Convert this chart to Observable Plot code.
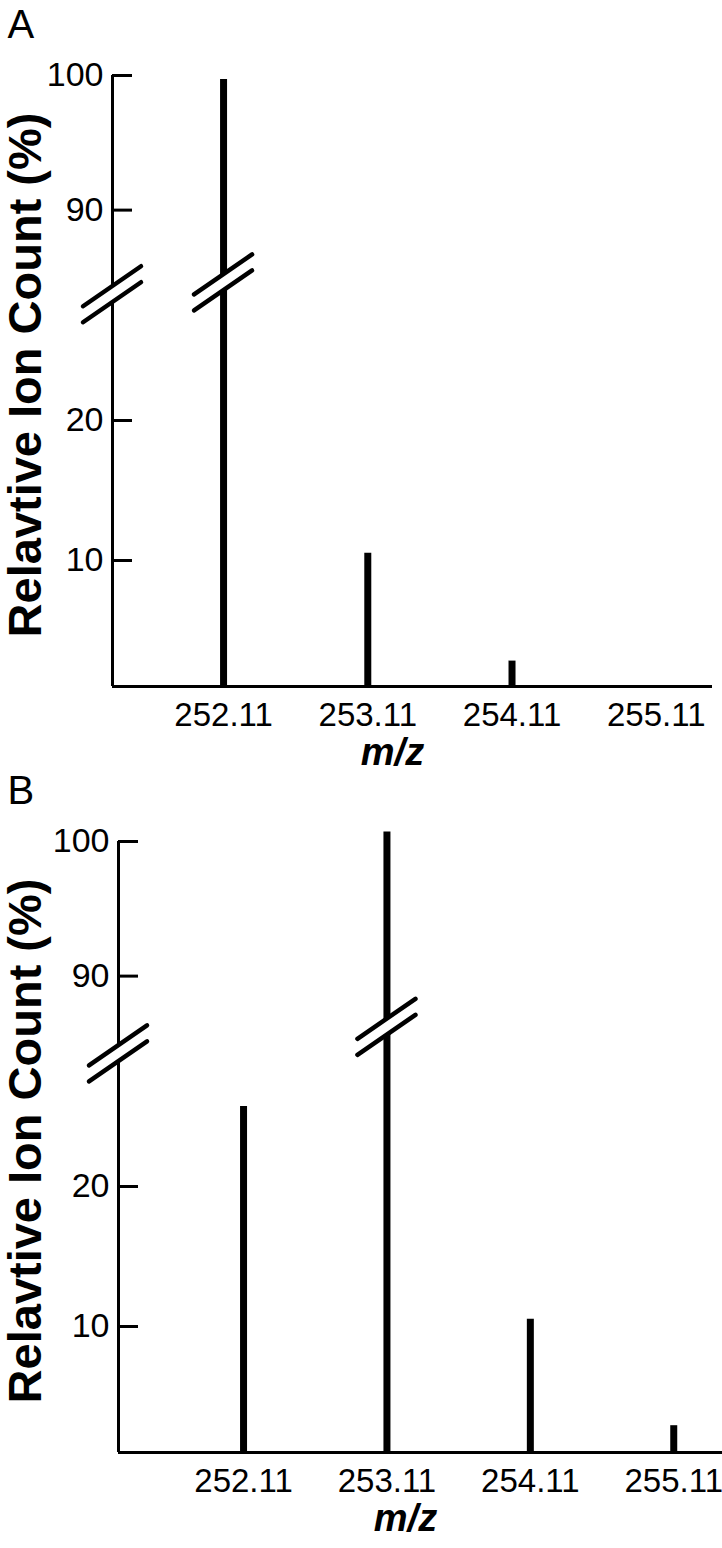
<!DOCTYPE html>
<html><head><meta charset="utf-8">
<script src="https://cdn.jsdelivr.net/npm/d3@7"></script>
<script src="https://cdn.jsdelivr.net/npm/@observablehq/plot@0.6"></script>
<style>body{margin:0;background:#fff;} #chart{width:722px;} #chart svg{display:block;}</style>
</head><body><div id="chart"></div>
<script>
// ---- data ----
const mzTicks = [252.11, 253.11, 254.11, 255.11];
const yTicks = [10, 20, 90, 100];
const mzA = [252.11, 253.11, 254.11];
const ionA = [100, 10.8, 3.1];
const mzB = [252.11, 253.11, 254.11, 255.11];
const ionB = [26, 101, 10.8, 3.2];
const yLabel = "Relavtive Ion Count (%)";
const xLabel = "m/z";
const panelTags = ["A", "B"];
// broken y axis: lower segment from base to 28, upper segment from 87 to 100
const yBase = 1;
const yBreak = [28, 87];
const yTop = 100;
// break symbols (null = on the y axis), level in y units inside the gap
const breakMzA = [null, 252.11];
const breakLevelA = [42, 54];
const breakMzB = [null, 253.11];
const breakLevelB = [49, 76];

const FONT = "'Liberation Sans', Arial, Helvetica, sans-serif";

// piecewise mapping of the broken axis onto a continuous display coordinate
const yPos = d3.scaleLinear()
  .domain([yBase, yBreak[0], yBreak[1], yTop])
  .range([0, 378, 436, 611]);

function breakMarks(mzs, levels) {
  return (index, scales, values, dimensions) => {
    const g = d3.create("svg:g");
    mzs.forEach((m, i) => {
      const cx = m == null ? dimensions.marginLeft : scales.x(m);
      const cy = scales.y(yPos(levels[i]));
      const hx = 29, hy = 20, s = 8;
      g.append("path").attr("fill", "#fff")
        .attr("d", `M${cx-hx},${cy-s+hy}L${cx+hx},${cy-s-hy}L${cx+hx},${cy+s-hy}L${cx-hx},${cy+s+hy}Z`);
      for (const o of [-s, s]) {
        g.append("line")
          .attr("x1", cx - hx).attr("y1", cy + o + hy)
          .attr("x2", cx + hx).attr("y2", cy + o - hy)
          .attr("stroke", "#000").attr("stroke-width", 4.5).attr("stroke-linecap", "round");
      }
    });
    return g.node();
  };
}

function panel({tag, mz, ion, breakMz, breakLevel, marginLeft, marginRight, xDomain, xLabelCenter}) {
  const data = mz.map((m, i) => ({mz: m, ion: ion[i]}));
  const width = 722, height = 766, marginTop = 75, marginBottom = 80;
  const frameCenter = (marginLeft + width - marginRight) / 2;
  const tickVals = yTicks.map(v => yPos(v));
  return Plot.plot({
    width, height, marginLeft, marginRight, marginTop, marginBottom,
    style: {fontFamily: FONT, color: "#000", background: "#fff", overflow: "visible"},
    x: {domain: xDomain},
    y: {domain: [yPos(yBase), yPos(yTop)]},
    marks: [
      Plot.ruleY([yPos(yBase)], {stroke: "#000", strokeWidth: 3}),
      Plot.ruleX([xDomain[0]], {stroke: "#000", strokeWidth: 3}),
      Plot.axisY({ticks: tickVals, tickSize: 20, dx: 20, strokeWidth: 3, tickFormat: () => "", label: null}),
      Plot.axisY({ticks: tickVals, tickSize: 0, tickPadding: 9, fontSize: 34, label: null,
                  tickFormat: v => String(Math.round(yPos.invert(v)))}),
      Plot.axisX({ticks: mzTicks, tickSize: 0, tickPadding: 16, tickFormat: d => d.toFixed(2), fontSize: 33, label: null}),
      Plot.ruleX(data, {x: "mz", y1: yPos(yBase), y2: d => yPos(d.ion), stroke: "#000", strokeWidth: 7, insetBottom: -4}),
      breakMarks(breakMz, breakLevel),
      Plot.text([yLabel], {frameAnchor: "left", textAnchor: "middle", lineAnchor: "middle", rotate: -90, dx: 25 - marginLeft, dy: -6, fontSize: 47, fontWeight: "bold", fill: "#000"}),
      Plot.text([xLabel], {frameAnchor: "bottom", textAnchor: "middle", lineAnchor: "top", dx: xLabelCenter - frameCenter, dy: 52, fontSize: 38, fontWeight: "bold", fontStyle: "italic", fill: "#000"}),
      Plot.text([tag], {frameAnchor: "top-left", textAnchor: "start", lineAnchor: "top", dx: 7 - marginLeft, dy: 9 - marginTop, fontSize: 40, fill: "#000"})
    ]
  });
}

const chart = document.getElementById("chart");
chart.append(panel({
  tag: panelTags[0], mz: mzA, ion: ionA, breakMz: breakMzA, breakLevel: breakLevelA,
  marginLeft: 112, marginRight: 10, xDomain: [251.34, 255.5], xLabelCenter: 392
}));
chart.append(panel({
  tag: panelTags[1], mz: mzB, ion: ionB, breakMz: breakMzB, breakLevel: breakLevelB,
  marginLeft: 118, marginRight: 0, xDomain: [251.238, 255.45], xLabelCenter: 405
}));
</script>
</body></html>
